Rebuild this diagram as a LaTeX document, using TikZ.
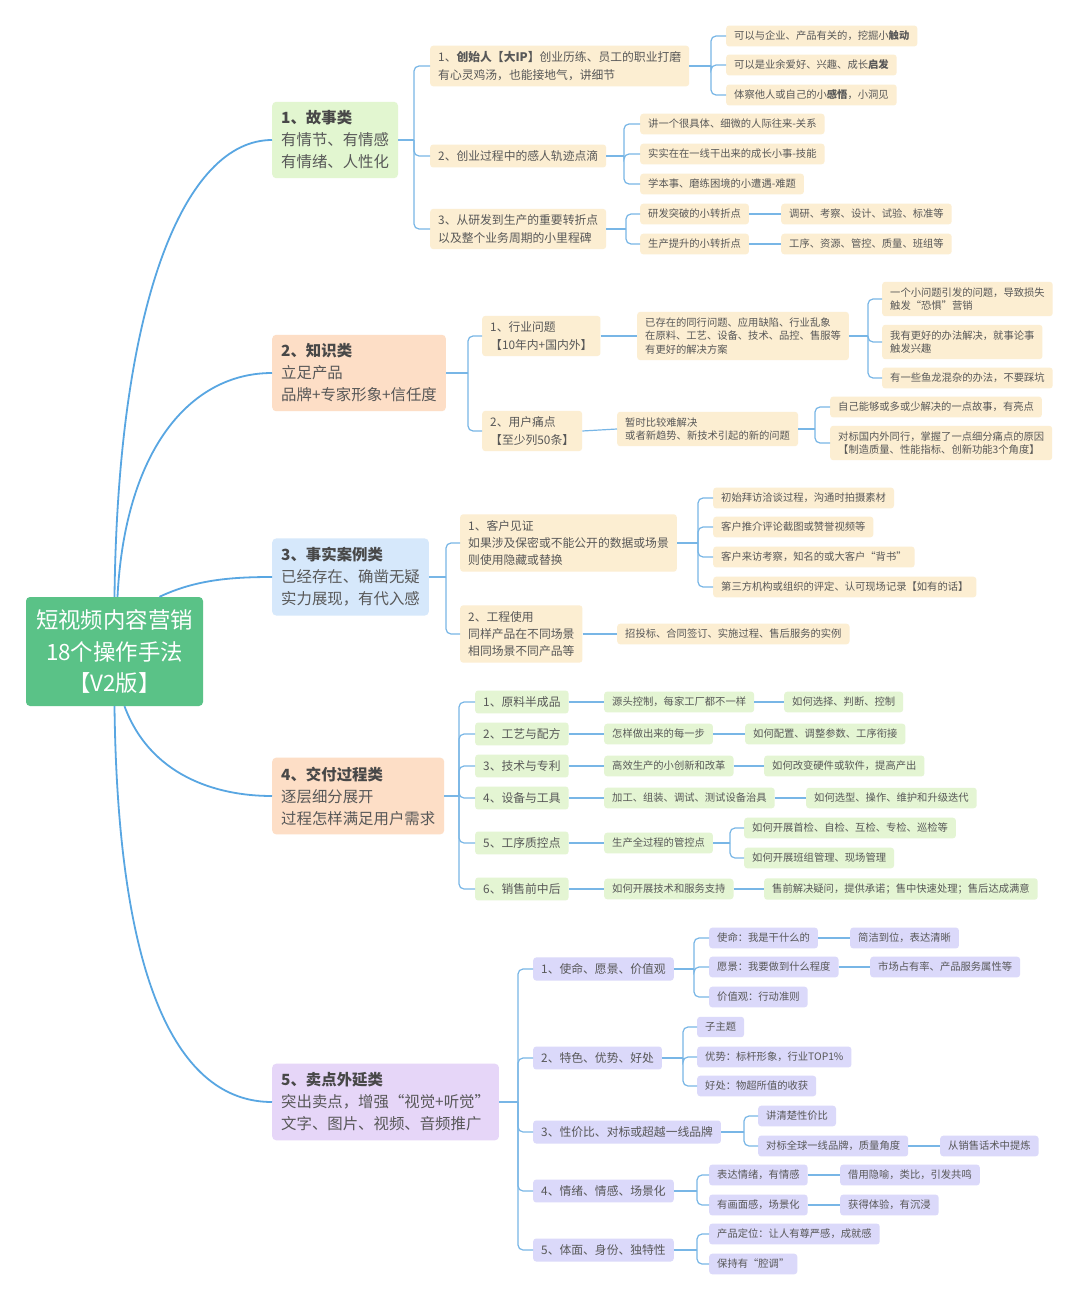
\documentclass[tikz,border=0pt]{standalone}
\usepackage{fontspec}
\setmainfont{Noto Sans CJK SC}
\definecolor{rootgreen}{RGB}{90,194,135}
\definecolor{storyfill}{RGB}{226,246,208}
\definecolor{peachfill}{RGB}{253,222,198}
\definecolor{bluefill}{RGB}{214,232,251}
\definecolor{lilacfill}{RGB}{230,214,248}
\definecolor{creamfill}{RGB}{252,238,210}
\definecolor{greenfill}{RGB}{228,245,211}
\definecolor{purplefill}{RGB}{219,217,250}
\definecolor{curveblue}{RGB}{88,166,226}
\definecolor{treeblue}{RGB}{120,182,230}
\definecolor{textgray}{RGB}{88,88,88}
\definecolor{titlegray}{RGB}{72,72,72}
\tikzset{
  rootbox/.style={fill=rootgreen,text=white,rounded corners=4,align=center,
    font=\fontsize{22.4}{31.5}\selectfont,minimum width=177,minimum height=109},
  catbox/.style={rounded corners=4,align=left,anchor=west,text=textgray,
    font=\fontsize{15.4}{22}\selectfont,inner xsep=9,inner ysep=9},
  midbox/.style={rounded corners=3,align=left,anchor=west,text=textgray,
    font=\fontsize{11.8}{17.2}\selectfont,inner xsep=8,inner ysep=6},
  leafbox/.style={rounded corners=3,align=left,anchor=west,text=textgray,
    font=\fontsize{10.3}{13.8}\selectfont,inner xsep=8,inner ysep=5.5},
  curve/.style={curveblue,line width=1.8},
  tree/.style={treeblue,line width=1.2}
}
\newcommand{\cattitle}[1]{{\bfseries\color{titlegray}#1}}
\begin{document}
\begin{tikzpicture}[x=1pt,y=-1pt]
\useasboundingbox (0,0) rectangle (1080,1303);
\fill[white] (0,0) rectangle (1080,1303);

% root
\node[rootbox] (root) at (114.5,651.5) {短视频内容营销\\18个操作手法\\【V2版】};

% categories
\node[catbox,fill=storyfill] (cat1) at (272,140) {\cattitle{1、故事类}\\有情节、有情感\\有情绪、人性化};
\node[catbox,fill=peachfill] (cat2) at (272,373) {\cattitle{2、知识类}\\立足产品\\品牌+专家形象+信任度};
\node[catbox,fill=bluefill] (cat3) at (272,577) {\cattitle{3、事实案例类}\\已经存在、确凿无疑\\实力展现，有代入感};
\node[catbox,fill=peachfill] (cat4) at (272,796) {\cattitle{4、交付过程类}\\逐层细分展开\\过程怎样满足用户需求};
\node[catbox,fill=lilacfill] (cat5) at (272,1102) {\cattitle{5、卖点外延类}\\突出卖点，增强“视觉+听觉”\\文字、图片、视频、音频推广};

\draw[curve] (root.north) .. controls (118,300) and (185,140) .. (cat1.west);
\draw[curve] ([xshift=3]root.north) .. controls (125,450) and (190,373) .. (cat2.west);
\draw[curve] ([xshift=45]root.north) .. controls (195,580) and (230,577) .. (cat3.west);
\draw[curve] ([xshift=10]root.south) .. controls (150,775) and (215,796) .. (cat4.west);
\draw[curve] (root.south) .. controls (118,1000) and (185,1102) .. (cat5.west);

% 1 story
\node[midbox,fill=creamfill] (s1) at (430,66) {1、\textbf{创始人【大IP】}创业历练、员工的职业打磨\\有心灵鸡汤，也能接地气，讲细节};
\node[midbox,fill=creamfill] (s2) at (430,156) {2、创业过程中的感人轨迹点滴};
\node[midbox,fill=creamfill] (s3) at (430,229) {3、从研发到生产的重要转折点\\以及整个业务周期的小里程碑};
\node[leafbox,fill=creamfill] (s1a) at (726,36) {可以与企业、产品有关的，挖掘小\textbf{触动}};
\node[leafbox,fill=creamfill] (s1b) at (726,65) {可以是业余爱好、兴趣、成长\textbf{启发}};
\node[leafbox,fill=creamfill] (s1c) at (726,95) {体察他人或自己的小\textbf{感悟}，小洞见};
\node[leafbox,fill=creamfill] (s2a) at (640,124) {讲一个很具体、细微的人际往来-关系};
\node[leafbox,fill=creamfill] (s2b) at (640,154) {实实在在一线干出来的成长小事-技能};
\node[leafbox,fill=creamfill] (s2c) at (640,184) {学本事、磨练困境的小遭遇-难题};
\node[leafbox,fill=creamfill] (s3a) at (640,214) {研发突破的小转折点};
\node[leafbox,fill=creamfill] (s3b) at (640,244) {生产提升的小转折点};
\node[leafbox,fill=creamfill] (s3a1) at (781,214) {调研、考察、设计、试验、标准等};
\node[leafbox,fill=creamfill] (s3b1) at (781,244) {工序、资源、管控、质量、班组等};

% 2 knowledge
\node[midbox,fill=creamfill] (k1) at (482,336) {1、行业问题\\【10年内+国内外】};
\node[midbox,fill=creamfill] (k2) at (482,431) {2、用户痛点\\【至少列50条】};
\node[leafbox,fill=creamfill] (k1a) at (637,336) {已存在的同行问题、应用缺陷、行业乱象\\在原料、工艺、设备、技术、品控、售服等\\有更好的解决方案};
\node[leafbox,fill=creamfill] (k1a1) at (882,299) {一个小问题引发的问题，导致损失\\触发“恐惧”营销};
\node[leafbox,fill=creamfill] (k1a2) at (882,342) {我有更好的办法解决，就事论事\\触发兴趣};
\node[leafbox,fill=creamfill] (k1a3) at (882,378) {有一些鱼龙混杂的办法，不要踩坑};
\node[leafbox,fill=creamfill] (k2a) at (617,429) {暂时比较难解决\\或者新趋势、新技术引起的新的问题};
\node[leafbox,fill=creamfill] (k2a1) at (830,407) {自己能够或多或少解决的一点故事，有亮点};
\node[leafbox,fill=creamfill] (k2a2) at (830,443) {对标国内外同行，掌握了一点细分痛点的原因\\【制造质量、性能指标、创新功能3个角度】};

% 3 facts
\node[midbox,fill=creamfill] (f1) at (460,543) {1、客户见证\\如果涉及保密或不能公开的数据或场景\\则使用隐藏或替换};
\node[midbox,fill=creamfill] (f2) at (460,634) {2、工程使用\\同样产品在不同场景\\相同场景不同产品等};
\node[leafbox,fill=creamfill] (f1a) at (713,498) {初始拜访洽谈过程，沟通时拍摄素材};
\node[leafbox,fill=creamfill] (f1b) at (713,527) {客户推介评论截图或赞誉视频等};
\node[leafbox,fill=creamfill] (f1c) at (713,557) {客户来访考察，知名的或大客户“背书”};
\node[leafbox,fill=creamfill] (f1d) at (713,587) {第三方机构或组织的评定、认可现场记录【如有的话】};
\node[leafbox,fill=creamfill] (f2a) at (617,634) {招投标、合同签订、实施过程、售后服务的实例};

% 4 delivery
\node[midbox,fill=greenfill] (p1) at (475,702) {1、原料半成品};
\node[midbox,fill=greenfill] (p2) at (475,734) {2、工艺与配方};
\node[midbox,fill=greenfill] (p3) at (475,766) {3、技术与专利};
\node[midbox,fill=greenfill] (p4) at (475,798) {4、设备与工具};
\node[midbox,fill=greenfill] (p5) at (475,843) {5、工序质控点};
\node[midbox,fill=greenfill] (p6) at (475,889) {6、销售前中后};
\node[leafbox,fill=greenfill] (p1a) at (604,702) {源头控制，每家工厂都不一样};
\node[leafbox,fill=greenfill] (p1b) at (784,702) {如何选择、判断、控制};
\node[leafbox,fill=greenfill] (p2a) at (604,734) {怎样做出来的每一步};
\node[leafbox,fill=greenfill] (p2b) at (745,734) {如何配置、调整参数、工序衔接};
\node[leafbox,fill=greenfill] (p3a) at (604,766) {高效生产的小创新和改革};
\node[leafbox,fill=greenfill] (p3b) at (764,766) {如何改变硬件或软件，提高产出};
\node[leafbox,fill=greenfill] (p4a) at (604,798) {加工、组装、调试、测试设备治具};
\node[leafbox,fill=greenfill] (p4b) at (806,798) {如何选型、操作、维护和升级迭代};
\node[leafbox,fill=greenfill] (p5a) at (604,843) {生产全过程的管控点};
\node[leafbox,fill=greenfill] (p5b) at (744,828) {如何开展首检、自检、互检、专检、巡检等};
\node[leafbox,fill=greenfill] (p5c) at (744,858) {如何开展班组管理、现场管理};
\node[leafbox,fill=greenfill] (p6a) at (604,889) {如何开展技术和服务支持};
\node[leafbox,fill=greenfill] (p6b) at (764,889) {售前解决疑问，提供承诺；售中快速处理；售后达成满意};

% 5 selling points
\node[midbox,fill=purplefill] (m1) at (533,969) {1、使命、愿景、价值观};
\node[midbox,fill=purplefill] (m2) at (533,1058) {2、特色、优势、好处};
\node[midbox,fill=purplefill] (m3) at (533,1132) {3、性价比、对标或超越一线品牌};
\node[midbox,fill=purplefill] (m4) at (533,1191) {4、情绪、情感、场景化};
\node[midbox,fill=purplefill] (m5) at (533,1250) {5、体面、身份、独特性};
\node[leafbox,fill=purplefill] (m1a) at (709,938) {使命：我是干什么的};
\node[leafbox,fill=purplefill] (m1a1) at (850,938) {简洁到位，表达清晰};
\node[leafbox,fill=purplefill] (m1b) at (709,967) {愿景：我要做到什么程度};
\node[leafbox,fill=purplefill] (m1b1) at (870,967) {市场占有率、产品服务属性等};
\node[leafbox,fill=purplefill] (m1c) at (709,997) {价值观：行动准则};
\node[leafbox,fill=purplefill] (m2a) at (697,1027) {子主题};
\node[leafbox,fill=purplefill] (m2b) at (697,1057) {优势：标杆形象，行业TOP1\%};
\node[leafbox,fill=purplefill] (m2c) at (697,1086) {好处：物超所值的收获};
\node[leafbox,fill=purplefill] (m3a) at (758,1116) {讲清楚性价比};
\node[leafbox,fill=purplefill] (m3b) at (758,1146) {对标全球一线品牌，质量角度};
\node[leafbox,fill=purplefill] (m3b1) at (940,1146) {从销售话术中提炼};
\node[leafbox,fill=purplefill] (m4a) at (709,1175) {表达情绪，有情感};
\node[leafbox,fill=purplefill] (m4a1) at (840,1175) {借用隐喻，类比，引发共鸣};
\node[leafbox,fill=purplefill] (m4b) at (709,1205) {有画面感，场景化};
\node[leafbox,fill=purplefill] (m4b1) at (840,1205) {获得体验，有沉浸};
\node[leafbox,fill=purplefill] (m5a) at (709,1234) {产品定位：让人有尊严感，成就感};
\node[leafbox,fill=purplefill] (m5b) at (709,1264) {保持有“腔调”};

% tree connectors: parent / bus x / children
\foreach \p/\bx/\kids in {cat1/414/{s1,s2,s3}, s1/711/{s1a,s1b,s1c}, s2/624/{s2a,s2b,s2c},
    s3/626/{s3a,s3b}, cat2/468/{k1,k2}, k1a/868/{k1a1,k1a2,k1a3}, k2a/815/{k2a1,k2a2},
    cat3/446/{f1,f2}, f1/698/{f1a,f1b,f1c,f1d}, cat4/459/{p1,p2,p3,p4,p5,p6},
    p5a/730/{p5b,p5c}, cat5/518/{m1,m2,m3,m4,m5}, m1/694/{m1a,m1b,m1c},
    m2/683/{m2a,m2b,m2c}, m3/744/{m3a,m3b}, m4/697/{m4a,m4b}, m5/697/{m5a,m5b}}{
  \draw[tree] (\p.east) -- (\p.east -| \bx,0);
  \foreach \c in \kids
    \draw[tree,rounded corners=5] (\p.east -| \bx,0) |- (\c.west);
}

% straight connectors
\foreach \a/\b in {s3a/s3a1, s3b/s3b1, k1/k1a, k2/k2a, f2/f2a,
    p1/p1a, p1a/p1b, p2/p2a, p2a/p2b, p3/p3a, p3a/p3b, p4/p4a, p4a/p4b,
    p5/p5a, p6/p6a, p6a/p6b, m1a/m1a1, m1b/m1b1, m3b/m3b1, m4a/m4a1, m4b/m4b1}
  \draw[tree] (\a.east) -- (\b.west);

\end{tikzpicture}
\end{document}
